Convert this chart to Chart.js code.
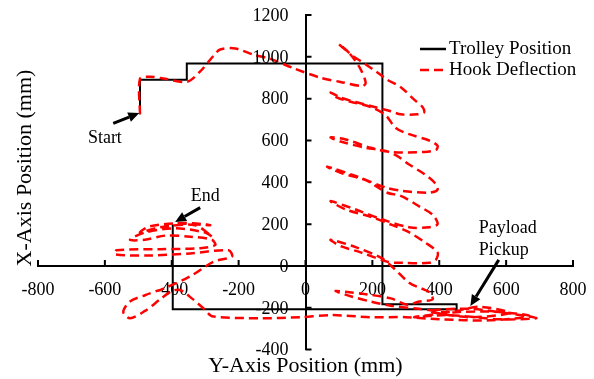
<!DOCTYPE html>
<html>
<head>
<meta charset="utf-8">
<script src="https://cdn.jsdelivr.net/npm/chart.js@4.4.0/dist/chart.umd.min.js"></script>
<style>
  html, body { margin: 0; padding: 0; background: #fff; }
</style>
</head>
<body>
<canvas id="path-chart" width="594" height="379"></canvas>
<script>
// all values in mm; horizontal axis is the crane Y axis, vertical is the X axis
const hTicks = [-800, -600, -400, -200, 0, 200, 400, 600, 800];
const vTicks = [-400, -200, 0, 200, 400, 600, 800, 1000, 1200];

const trolleyY = [-495, -495, -355, -355, 230, 230, 452, 452, -397, -397];
const trolleyX = [725, 890, 890, 968, 968, -183, -183, -207, -207, 200];

const hookY = [
  -495, -495, -465, -420, -355, -315, -275, -255, -210, -155, -105, -35, 45, 105, 170, 180,
  165, 135, 100, 120, 140, 170, 215, 245, 285, 325, 350, 355, 335, 285, 255, 195,
  105, 75, 95, 135, 195, 240, 270, 310, 370, 395, 390, 355, 255, 195, 120, 75,
  105, 180, 240, 275, 310, 355, 385, 395, 370, 285, 240, 150, 65, 105, 180, 245,
  285, 340, 380, 395, 370, 310, 225, 150, 75, 120, 195, 260, 305, 355, 395, 390,
  370, 285, 245, 165, 105, 75, 150, 225, 260, 310, 350, 370, 380, 340, 305, 255,
  180, 125, 90, 135, 195, 255, 340, 430, 520, 610, 490, 370, 490, 640, 690, 580,
  430, 325, 460, 580, 670, 550, 400, 300, 195, 75, -15, -135, -280, -300, -340, -375,
  -400, -435, -480, -525, -545, -525, -480, -420, -345, -275, -220, -230, -345, -465, -570, -565,
  -435, -315, -270, -280, -345, -420, -480, -525, -480, -390, -300, -280, -330, -435, -495, -465,
  -360, -285, -390
];
const hookX = [
  725, 895, 905, 895, 880, 930, 1005, 1035, 1040, 1010, 990, 945, 900, 880, 860, 875,
  940, 1010, 1060, 1035, 1005, 975, 925, 890, 855, 795, 760, 735, 725, 725, 740, 765,
  805, 830, 805, 785, 760, 720, 660, 630, 600, 575, 555, 545, 545, 565, 605, 615,
  595, 565, 550, 525, 485, 440, 400, 365, 350, 360, 375, 430, 475, 445, 410, 350,
  335, 285, 245, 200, 185, 185, 225, 270, 310, 270, 235, 195, 165, 115, 65, 30,
  15, 15, 20, 65, 95, 125, 90, 40, -5, -80, -110, -125, -160, -170, -185, -155,
  -135, -125, -120, -145, -170, -190, -205, -220, -195, -225, -245, -215, -205, -235, -250, -255,
  -235, -245, -220, -220, -240, -260, -255, -245, -245, -235, -245, -250, -240, -210, -155, -115,
  -120, -160, -215, -250, -220, -170, -140, -105, -50, 20, 45, 75, 60, 50, 55, 75,
  80, 85, 100, 125, 140, 145, 125, 125, 160, 180, 160, 140, 195, 185, 160, 190,
  205, 195, 205
];

const notes = [
  { lines: ['Start'], at: [-600, 612], align: 'center', from: [-575, 682], to: [-497, 731] },
  { lines: ['End'], at: [-300, 333], align: 'center', from: [-315, 279], to: [-390, 210] },
  { lines: ['Payload', 'Pickup'], at: [518, 182], align: 'left', from: [578, 29], to: [493, -191] },
];

const serif = 'Liberation Serif, Times New Roman, serif';

const toPoints = (xs, ys) => xs.map((v, i) => ({ x: v, y: ys[i] }));

const drawArrow = (ctx, x1, y1, x2, y2) => {
  const a = Math.atan2(y2 - y1, x2 - x1);
  const head = 11, half = 5;
  const bx = x2 - head * Math.cos(a), by = y2 - head * Math.sin(a);
  ctx.lineWidth = 3;
  ctx.beginPath();
  ctx.moveTo(x1, y1);
  ctx.lineTo(bx, by);
  ctx.stroke();
  ctx.beginPath();
  ctx.moveTo(x2, y2);
  ctx.lineTo(bx + half * Math.sin(a), by - half * Math.cos(a));
  ctx.lineTo(bx - half * Math.sin(a), by + half * Math.cos(a));
  ctx.closePath();
  ctx.fill();
};

// inward ticks, y labels, arrows + notes, legend and the rotated left title
const decorations = {
  id: 'decorations',
  afterDraw(chart) {
    const { ctx, scales: { x, y } } = chart;
    const x0 = x.getPixelForValue(0);
    const y0 = y.getPixelForValue(0);
    ctx.save();
    ctx.strokeStyle = '#000';
    ctx.fillStyle = '#000';
    ctx.lineWidth = 2;
    ctx.beginPath();
    x.ticks.forEach(t => {
      const px = x.getPixelForValue(t.value);
      ctx.moveTo(px, y0);
      ctx.lineTo(px, y0 - 6);
    });
    y.ticks.forEach(t => {
      const py = y.getPixelForValue(t.value);
      ctx.moveTo(x0, py);
      ctx.lineTo(x0 + 6, py);
    });
    ctx.stroke();

    // y tick labels sit left of the centred axis
    ctx.font = '18px ' + serif;
    ctx.textAlign = 'right';
    ctx.textBaseline = 'middle';
    y.ticks.forEach(t => {
      ctx.fillText(String(t.value), x0 - 17, y.getPixelForValue(t.value) + 1);
    });

    notes.forEach(n => {
      drawArrow(ctx, x.getPixelForValue(n.from[0]), y.getPixelForValue(n.from[1]),
        x.getPixelForValue(n.to[0]), y.getPixelForValue(n.to[1]));
      ctx.textAlign = n.align;
      n.lines.forEach((s, i) => {
        ctx.fillText(s, x.getPixelForValue(n.at[0]), y.getPixelForValue(n.at[1]) + i * 22);
      });
    });

    // legend
    ctx.font = '19px ' + serif;
    ctx.textAlign = 'left';
    chart.data.datasets.forEach((ds, i) => {
      const ly = 49 + i * 21;
      ctx.strokeStyle = ds.borderColor;
      ctx.lineWidth = 2.5;
      ctx.setLineDash(ds.borderDash || []);
      ctx.beginPath();
      ctx.moveTo(420, ly);
      ctx.lineTo(446, ly);
      ctx.stroke();
      ctx.setLineDash([]);
      ctx.fillText(ds.label, 449, ly);
    });

    ctx.font = '22px ' + serif;
    ctx.textAlign = 'center';
    ctx.translate(25, 168);
    ctx.rotate(-Math.PI / 2);
    ctx.fillText('X-Axis Position (mm)', 0, 0);
    ctx.restore();
  }
};

const tickFont = { family: serif, size: 18 };

new Chart(document.getElementById('path-chart'), {
  type: 'scatter',
  data: {
    datasets: [
      {
        label: 'Trolley Position',
        data: toPoints(trolleyY, trolleyX),
        showLine: true,
        borderColor: '#000000',
        borderWidth: 2,
        pointRadius: 0,
        tension: 0,
        order: 2,
      },
      {
        label: 'Hook Deflection',
        data: toPoints(hookY, hookX),
        showLine: true,
        borderColor: '#ff0000',
        borderWidth: 2.5,
        borderDash: [9, 5],
        pointRadius: 0,
        tension: 0.3,
        order: 1,
      },
    ]
  },
  options: {
    responsive: false,
    animation: false,
    devicePixelRatio: 1,
    layout: { padding: { left: 38, right: 21, top: 15, bottom: 0 } },
    plugins: {
      legend: { display: false },
      tooltip: { enabled: false },
      title: {
        display: true,
        text: 'Y-Axis Position (mm)',
        position: 'bottom',
        fullSize: false,
        color: '#000',
        font: { family: serif, size: 22, weight: 'normal' },
        padding: { top: 3, bottom: 0 },
      },
    },
    scales: {
      x: {
        type: 'linear',
        min: -800,
        max: 800,
        position: { y: 0 },
        afterBuildTicks: axis => { axis.ticks = hTicks.map(v => ({ value: v })); },
        // tick marks hidden (drawn inward by the plugin); their length only offsets the labels
        grid: { display: false, drawTicks: true, tickLength: 8 },
        border: { color: '#000', width: 2 },
        ticks: { color: '#000', font: tickFont, padding: 6, maxRotation: 0, autoSkip: false, callback: v => String(v) },
      },
      y: {
        type: 'linear',
        min: -400,
        max: 1200,
        position: { x: 0 },
        afterBuildTicks: axis => { axis.ticks = vTicks.map(v => ({ value: v })); },
        grid: { display: false, drawTicks: false },
        border: { color: '#000', width: 2 },
        ticks: { display: false, font: tickFont },
      },
    }
  },
  plugins: [decorations]
});
</script>
</body>
</html>
